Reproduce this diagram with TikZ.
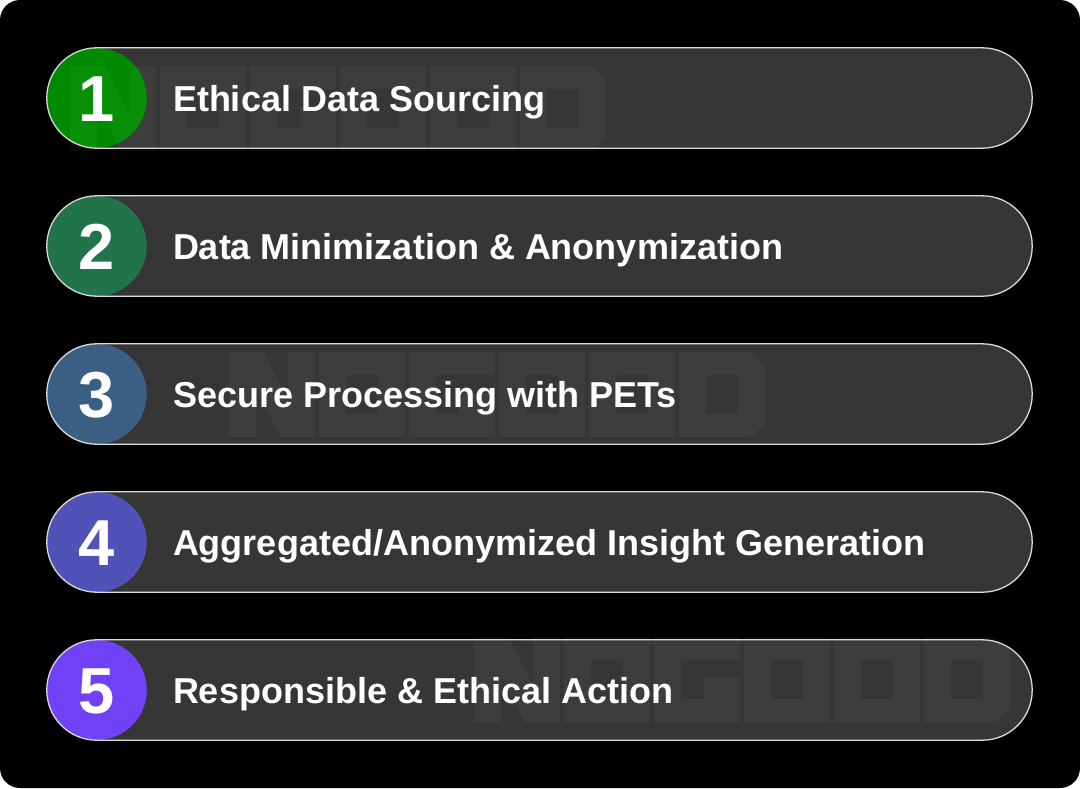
\documentclass[tikz,border=0pt]{standalone}
\usepackage{fontspec}
\newfontfamily\labfont{Liberation Sans}
\usetikzlibrary{positioning}
\definecolor{pillgray}{HTML}{363636}
\definecolor{pillline}{HTML}{DADADA}
\definecolor{cA}{HTML}{008A00}
\definecolor{cB}{HTML}{21734A}
\definecolor{cC}{HTML}{3B5F82}
\definecolor{cD}{HTML}{5052B8}
\definecolor{cE}{HTML}{7041F5}
\tikzset{
  pillbox/.style={rectangle, rounded corners=50pt, minimum width=985pt, minimum height=100pt, inner sep=0pt, fill=pillgray},
  pilledge/.style={draw=pillline, line width=1.3pt, rounded corners=50pt},
  numcirc/.style={circle, minimum size=100pt, inner sep=0pt, text=white, font=\labfont\bfseries\fontsize{65}{65}\selectfont},
  steplabel/.style={anchor=base west, inner sep=0pt, text=white, font=\labfont\bfseries\fontsize{36}{36}\selectfont},
  wmark/.style={fill=white, fill opacity=0.035, even odd rule}
}
\newcommand{\wmlogo}[2]{%
  \begin{scope}[shift={(#1,#2)}]
    % N
    \fill[wmark] (0,0) rectangle (86,85) (35,0) -- (59,0) -- (59,48) -- cycle (27,37) -- (27,85) -- (51,85) -- cycle;
    % O
    \fill[wmark] (90,0) rectangle (176,85) (117,23) rectangle (149,62);
    % G
    \fill[wmark] (180,0) rectangle (266,85) (207,23) -- (266,23) -- (266,41) -- (230,41) -- (230,62) -- (207,62) -- cycle;
    % O
    \fill[wmark] (270,0) rectangle (356,85) (297,23) rectangle (329,62);
    % O
    \fill[wmark] (360,0) rectangle (446,85) (387,23) rectangle (419,62);
    % D
    \fill[wmark] (450,0) -- (522,0) -- (536,14) -- (536,71) -- (522,85) -- (450,85) -- cycle (477,23) rectangle (509,62);
  \end{scope}}
\begin{document}
\begin{tikzpicture}[x=1pt,y=-1pt]
\fill[white] (0,0) rectangle (1080,788);
\fill[black, rounded corners=20pt] (0,0) rectangle (1080,788);
\useasboundingbox (0,0) rectangle (1080,788);

\foreach \i/\y/\c in {1/98/cA, 2/246/cB, 3/394/cC, 4/542/cD, 5/690/cE}{
  \node[pillbox] (p\i) at (539.5,\y) {};
  \node[numcirc, fill=\c] (n\i) at (p\i.west) [xshift=50pt] {};
  \draw[pilledge] (p\i.south west) rectangle (p\i.north east);
}

\wmlogo{70}{66}
\wmlogo{229}{352}
\wmlogo{474}{637}

\foreach \i/\txt in {1/{Ethical Data Sourcing},
                     2/{Data Minimization \& Anonymization},
                     3/{Secure Processing with PETs},
                     4/{Aggregated/Anonymized Insight Generation},
                     5/{Responsible \& Ethical Action}}{
  \node[numcirc, anchor=base, minimum size=0pt] (d\i) at ([yshift=-23.5pt]n\i.center) {\i};
  \node[steplabel] (t\i) at ([xshift=76pt, yshift=-13pt]n\i.center) {\txt};
}
\end{tikzpicture}
\end{document}
